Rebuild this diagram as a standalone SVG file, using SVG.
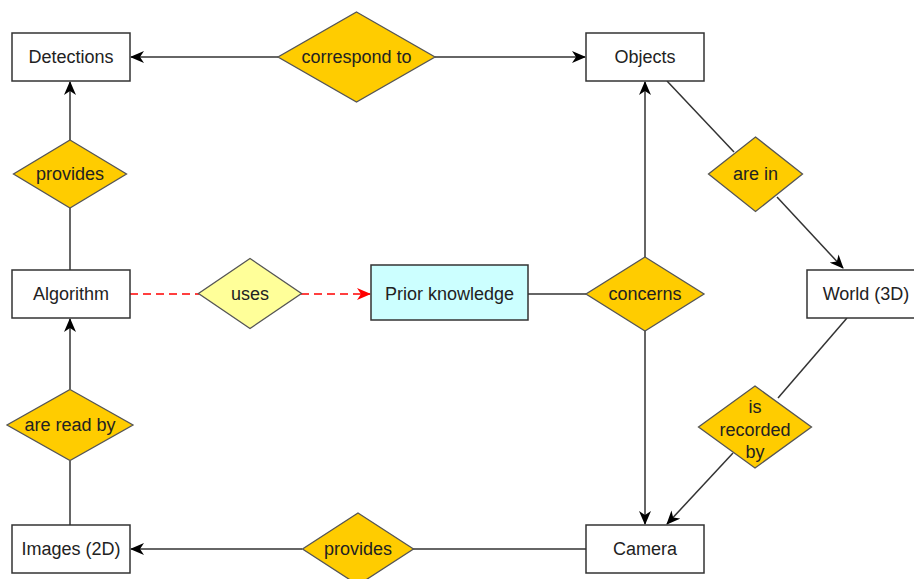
<svg xmlns="http://www.w3.org/2000/svg" width="914" height="579" viewBox="0 0 914 579">
<defs>
<style>
.box{fill:#fff;stroke:#333;stroke-width:1.5}
.rel{fill:#FFCC00;stroke:#555;stroke-width:1.3}
.use{fill:#FFFF99;stroke:#555;stroke-width:1.3}
.pk{fill:#CCFFFF;stroke:#333;stroke-width:1.5}
text{font-family:"Liberation Sans",Arial,sans-serif;font-size:18px;text-anchor:middle;fill:#222}
.e{fill:none;stroke:#333;stroke-width:1.5}
.d{fill:none;stroke:#FF0000;stroke-width:1.5;stroke-dasharray:8 5}
</style>
<marker id="ah" viewBox="0 0 14 12" refX="13" refY="6" markerWidth="14" markerHeight="12" markerUnits="userSpaceOnUse" orient="auto">
<path d="M0,0 L14,6 L0,12 L4,6 Z" fill="#000"/>
</marker>
<marker id="ahr" viewBox="0 0 14 12" refX="13" refY="6" markerWidth="14" markerHeight="12" markerUnits="userSpaceOnUse" orient="auto">
<path d="M0,0 L14,6 L0,12 L4,6 Z" fill="#FF0000"/>
</marker>
</defs>
<rect width="914" height="579" fill="#fff"/>
<g id="connectors">
<line class="e" x1="278" y1="57" x2="131" y2="57" marker-end="url(#ah)"/>
<line class="e" x1="435" y1="57" x2="585" y2="57" marker-end="url(#ah)"/>
<line class="e" x1="70" y1="140" x2="70" y2="82" marker-end="url(#ah)"/>
<line class="e" x1="70" y1="270" x2="70" y2="208"/>
<line class="e" x1="70" y1="389" x2="70" y2="319" marker-end="url(#ah)"/>
<line class="e" x1="70" y1="525" x2="70" y2="461"/>
<line class="e" x1="302" y1="549" x2="131" y2="549" marker-end="url(#ah)"/>
<line class="e" x1="586" y1="549" x2="413" y2="549"/>
<line class="d" x1="130" y1="294" x2="199" y2="294"/>
<line class="d" x1="301" y1="294" x2="370" y2="294" marker-end="url(#ahr)"/>
<line class="e" x1="528" y1="294" x2="586" y2="294"/>
<line class="e" x1="645" y1="258" x2="645" y2="82" marker-end="url(#ah)"/>
<line class="e" x1="645" y1="330" x2="645" y2="524" marker-end="url(#ah)"/>
<line class="e" x1="667" y1="81" x2="734" y2="152"/>
<line class="e" x1="777" y1="197" x2="843" y2="268" marker-end="url(#ah)"/>
<line class="e" x1="847" y1="318" x2="778" y2="398"/>
<line class="e" x1="733" y1="453" x2="667" y2="524" marker-end="url(#ah)"/>
</g>
<g id="detections"><rect class="box" x="12" y="33" width="118" height="48"/><text x="71" y="63">Detections</text></g>
<g id="correspond-to"><polygon class="rel" points="356.5,12 435,57 356.5,102 278,57"/><text x="356.5" y="63">correspond to</text></g>
<g id="objects"><rect class="box" x="586" y="33" width="118" height="48"/><text x="645" y="63">Objects</text></g>
<g id="provides-top"><polygon class="rel" points="70,140 126.5,174 70,208 13.5,174"/><text x="70" y="180">provides</text></g>
<g id="are-in"><polygon class="rel" points="755.5,137 802.5,174 755.5,211.5 708.5,174"/><text x="755.5" y="180">are in</text></g>
<g id="algorithm"><rect class="box" x="12" y="270" width="118" height="48"/><text x="71" y="300">Algorithm</text></g>
<g id="uses"><polygon class="use" points="250,258.5 301.5,293.5 250,328.5 198.5,293.5"/><text x="250" y="300">uses</text></g>
<g id="prior-knowledge"><rect class="pk" x="371" y="265" width="157" height="55"/><text x="449.5" y="300">Prior knowledge</text></g>
<g id="concerns"><polygon class="rel" points="645,257 704,294 645,331 586,294"/><text x="645" y="300">concerns</text></g>
<g id="world"><rect class="box" x="807" y="270" width="118" height="48"/><text x="866" y="300">World (3D)</text></g>
<g id="are-read-by"><polygon class="rel" points="70,389.5 133,425 70,460.5 7,425"/><text x="70" y="431">are read by</text></g>
<g id="is-recorded-by"><polygon class="rel" points="755,386 811.5,427 755,468 698.5,427"/><text x="755" y="413">is</text><text x="755" y="436">recorded</text><text x="755" y="458">by</text></g>
<g id="images"><rect class="box" x="12" y="525" width="118" height="48"/><text x="71" y="555">Images (2D)</text></g>
<g id="provides-bottom"><polygon class="rel" points="358,513 413.5,549 358,585 302.5,549"/><text x="358" y="555">provides</text></g>
<g id="camera"><rect class="box" x="586" y="525" width="118" height="48"/><text x="645" y="555">Camera</text></g>
</svg>
